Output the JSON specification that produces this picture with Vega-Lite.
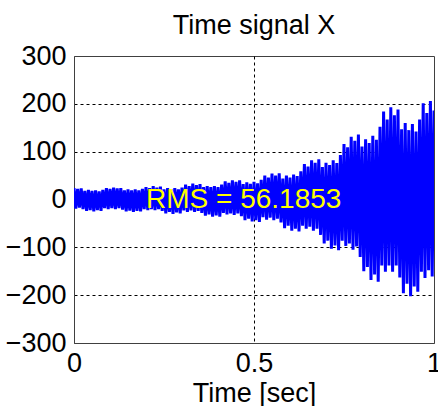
{
  "$schema": "https://vega.github.io/schema/vega-lite/v6.json",
  "width": 360,
  "height": 287,
  "autosize": {"type": "none"},
  "padding": {"left": 74, "top": 56, "right": 4, "bottom": 63},
  "background": "white",
  "title": {"text": "Time signal X", "font": "Liberation Sans", "fontSize": 27, "fontWeight": "normal", "color": "black", "offset": 2, "frame": "group", "anchor": "middle"},
  "config": {
    "view": {"stroke": "#404040", "strokeWidth": 1},
    "axis": {
      "labelFont": "Liberation Sans", "labelFontSize": 27, "labelColor": "black",
      "titleFont": "Liberation Sans", "titleFontSize": 27, "titleFontWeight": "normal", "titleColor": "black",
      "ticks": false, "domainColor": "#404040", "domainWidth": 1,
      "gridColor": "black", "gridDash": [3, 3], "gridWidth": 1,
      "labelFlush": false, "labelOverlap": false
    }
  },
  "datasets": {
    "signal": [
      {"t":0,"v":24},{"t":0.005,"v":-19},{"t":0.01,"v":22},{"t":0.015,"v":-17},{"t":0.02,"v":23},{"t":0.025,"v":-20},{"t":0.03,"v":18},{"t":0.035,"v":-24},{"t":0.04,"v":20},{"t":0.045,"v":-22},
      {"t":0.05,"v":18},{"t":0.055,"v":-25},{"t":0.06,"v":19},{"t":0.065,"v":-22},{"t":0.07,"v":17},{"t":0.075,"v":-24},{"t":0.08,"v":20},{"t":0.085,"v":-18},{"t":0.09,"v":24},{"t":0.095,"v":-20},
      {"t":0.1,"v":22},{"t":0.105,"v":-18},{"t":0.11,"v":25},{"t":0.115,"v":-20},{"t":0.12,"v":23},{"t":0.125,"v":-18},{"t":0.13,"v":24},{"t":0.135,"v":-21},{"t":0.14,"v":19},{"t":0.145,"v":-25},
      {"t":0.15,"v":21},{"t":0.155,"v":-23},{"t":0.16,"v":19},{"t":0.165,"v":-26},{"t":0.17,"v":21},{"t":0.175,"v":-24},{"t":0.18,"v":19},{"t":0.185,"v":-25},{"t":0.19,"v":22},{"t":0.195,"v":-20},
      {"t":0.2,"v":26},{"t":0.205,"v":-22},{"t":0.21,"v":24},{"t":0.215,"v":-20},{"t":0.22,"v":28},{"t":0.225,"v":-22},{"t":0.23,"v":25},{"t":0.235,"v":-20},{"t":0.24,"v":27},{"t":0.245,"v":-24},
      {"t":0.25,"v":21},{"t":0.255,"v":-29},{"t":0.26,"v":24},{"t":0.265,"v":-26},{"t":0.27,"v":21},{"t":0.275,"v":-30},{"t":0.28,"v":24},{"t":0.285,"v":-27},{"t":0.29,"v":21},{"t":0.295,"v":-29},
      {"t":0.3,"v":25},{"t":0.305,"v":-23},{"t":0.31,"v":31},{"t":0.315,"v":-26},{"t":0.32,"v":28},{"t":0.325,"v":-23},{"t":0.33,"v":33},{"t":0.335,"v":-26},{"t":0.34,"v":30},{"t":0.345,"v":-24},
      {"t":0.35,"v":32},{"t":0.355,"v":-28},{"t":0.36,"v":26},{"t":0.365,"v":-34},{"t":0.37,"v":28},{"t":0.375,"v":-31},{"t":0.38,"v":26},{"t":0.385,"v":-36},{"t":0.39,"v":28},{"t":0.395,"v":-33},
      {"t":0.4,"v":26},{"t":0.405,"v":-36},{"t":0.41,"v":31},{"t":0.415,"v":-28},{"t":0.42,"v":38},{"t":0.425,"v":-31},{"t":0.43,"v":35},{"t":0.435,"v":-29},{"t":0.44,"v":40},{"t":0.445,"v":-32},
      {"t":0.45,"v":37},{"t":0.455,"v":-29},{"t":0.46,"v":40},{"t":0.465,"v":-35},{"t":0.47,"v":32},{"t":0.475,"v":-43},{"t":0.48,"v":36},{"t":0.485,"v":-40},{"t":0.49,"v":33},{"t":0.495,"v":-46},
      {"t":0.5,"v":37},{"t":0.505,"v":-43},{"t":0.51,"v":34},{"t":0.515,"v":-47},{"t":0.52,"v":41},{"t":0.525,"v":-37},{"t":0.53,"v":50},{"t":0.535,"v":-42},{"t":0.54,"v":46},{"t":0.545,"v":-38},
      {"t":0.55,"v":54},{"t":0.555,"v":-43},{"t":0.56,"v":50},{"t":0.565,"v":-40},{"t":0.57,"v":55},{"t":0.575,"v":-48},{"t":0.58,"v":44},{"t":0.585,"v":-60},{"t":0.59,"v":50},{"t":0.595,"v":-55},
      {"t":0.6,"v":46},{"t":0.605,"v":-65},{"t":0.61,"v":52},{"t":0.615,"v":-61},{"t":0.62,"v":49},{"t":0.625,"v":-67},{"t":0.63,"v":59},{"t":0.635,"v":-55},{"t":0.64,"v":74},{"t":0.645,"v":-61},
      {"t":0.65,"v":69},{"t":0.655,"v":-57},{"t":0.66,"v":82},{"t":0.665,"v":-65},{"t":0.67,"v":77},{"t":0.675,"v":-61},{"t":0.68,"v":84},{"t":0.685,"v":-74},{"t":0.69,"v":68},{"t":0.695,"v":-92},
      {"t":0.7,"v":77},{"t":0.705,"v":-86},{"t":0.71,"v":72},{"t":0.715,"v":-103},{"t":0.72,"v":82},{"t":0.725,"v":-96},{"t":0.73,"v":76},{"t":0.735,"v":-106},{"t":0.74,"v":93},{"t":0.745,"v":-86},
      {"t":0.75,"v":116},{"t":0.755,"v":-97},{"t":0.76,"v":109},{"t":0.765,"v":-92},{"t":0.77,"v":131},{"t":0.775,"v":-105},{"t":0.78,"v":123},{"t":0.785,"v":-98},{"t":0.79,"v":136},{"t":0.795,"v":-120},
      {"t":0.8,"v":111},{"t":0.805,"v":-150},{"t":0.81,"v":126},{"t":0.815,"v":-141},{"t":0.82,"v":118},{"t":0.825,"v":-168},{"t":0.83,"v":133},{"t":0.835,"v":-157},{"t":0.84,"v":125},{"t":0.845,"v":-172},
      {"t":0.85,"v":152},{"t":0.855,"v":-138},{"t":0.86,"v":184},{"t":0.865,"v":-151},{"t":0.87,"v":167},{"t":0.875,"v":-138},{"t":0.88,"v":193},{"t":0.885,"v":-151},{"t":0.89,"v":176},{"t":0.895,"v":-138},
      {"t":0.9,"v":188},{"t":0.905,"v":-163},{"t":0.91,"v":147},{"t":0.915,"v":-196},{"t":0.92,"v":160},{"t":0.925,"v":-176},{"t":0.93,"v":145},{"t":0.935,"v":-202},{"t":0.94,"v":158},{"t":0.945,"v":-182},
      {"t":0.95,"v":142},{"t":0.955,"v":-193},{"t":0.96,"v":167},{"t":0.965,"v":-151},{"t":0.97,"v":201},{"t":0.975,"v":-164},{"t":0.98,"v":181},{"t":0.985,"v":-148},{"t":0.99,"v":206},{"t":0.995,"v":-161},
      {"t":1,"v":186}
    ],
    "note": [{"t": 0.2, "v": 0, "label": "RMS = 56.1853"}]
  },
  "layer": [
    {
      "data": {"name": "signal"},
      "mark": {"type": "line", "color": "#0000FF", "strokeWidth": 3, "strokeJoin": "bevel", "clip": true, "interpolate": "linear"},
      "encoding": {
        "x": {"field": "t", "type": "quantitative", "scale": {"domain": [0, 1], "nice": false, "zero": false},
          "axis": {"title": "Time [sec]", "values": [0, 0.5, 1], "format": "~g", "labelPadding": 7, "titlePadding": 4,
            "gridOpacity": {"condition": {"test": "datum.value == 0.5", "value": 1}, "value": 0}}},
        "y": {"field": "v", "type": "quantitative", "scale": {"domain": [-300, 300], "nice": false},
          "axis": {"title": null, "values": [-300, -200, -100, 0, 100, 200, 300], "labelPadding": 8,
            "gridOpacity": {"condition": {"test": "abs(datum.value) == 100 || abs(datum.value) == 200", "value": 1}, "value": 0}}}
      }
    },
    {
      "data": {"name": "note"},
      "mark": {"type": "text", "align": "left", "baseline": "middle", "font": "Liberation Sans", "fontSize": 28, "color": "#FFFF00"},
      "encoding": {
        "x": {"field": "t", "type": "quantitative"},
        "y": {"field": "v", "type": "quantitative"},
        "text": {"field": "label", "type": "nominal"}
      }
    }
  ]
}
